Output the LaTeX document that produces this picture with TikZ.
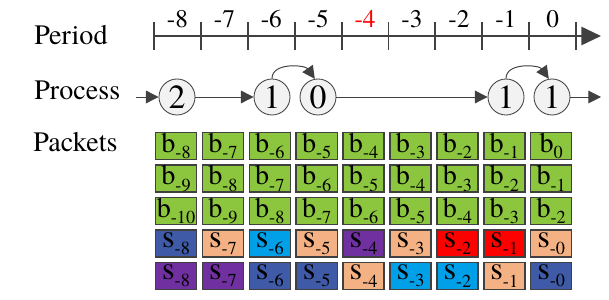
\documentclass[tikz,border=0pt]{standalone}
\usepackage{fontspec}
\setmainfont{TeX Gyre Termes}
\usepackage{tikz}
\usetikzlibrary{arrows.meta}
\definecolor{lineGrey}{HTML}{404040}
\definecolor{procFill}{HTML}{F2F2F2}
\definecolor{pktGreen}{HTML}{8CC63F}
\definecolor{slotNavy}{HTML}{3F5AA6}
\definecolor{slotPeach}{HTML}{F4B183}
\definecolor{slotSky}{HTML}{00A0E9}
\definecolor{slotPurple}{HTML}{7030A0}
\definecolor{slotRed}{HTML}{FF0000}
\newcommand{\pktlab}[2]{#1\raisebox{-0.5ex}{\fontsize{13}{13}\selectfont #2}}
\tikzset{
  rowlabel/.style={anchor=base west, font=\fontsize{20}{20}\selectfont, inner sep=0pt},
  periodlabel/.style={anchor=base, font=\fontsize{18}{18}\selectfont, inner sep=0pt},
  procnode/.style={circle, draw=lineGrey, fill=procFill, line width=0.6pt, minimum size=0.9cm, inner sep=0pt, font=\fontsize{24}{24}\selectfont},
  pktbox/.style={rectangle, draw=lineGrey, fill=#1, line width=1pt, minimum width=1.025cm, minimum height=0.675cm, inner sep=0pt, font=\fontsize{20}{20}\selectfont},
  axisarrow/.style={-{Triangle[length=14pt,width=13pt]}, line width=1.4pt, draw=lineGrey},
  procarrow/.style={-{Triangle[length=9pt,width=9pt]}, line width=0.7pt, draw=lineGrey},
}

\begin{document}
\begin{tikzpicture}[x=0.025cm,y=-0.025cm]
  \useasboundingbox (0,0) rectangle (609,300);

  % row labels
  \node[rowlabel] (period) at (34,45) {Period};
  \node[rowlabel] (process) at (34,100) {Process};
  \node[rowlabel] (packets) at (33,152) {Packets};

  % period axis
  \coordinate (axstart) at (153,36);
  \coordinate (axend) at (601,36);
  \draw[axisarrow] (axstart) -- (axend);
  \foreach \k in {0,...,9}
    \draw[line width=1.4pt, draw=lineGrey] ({154+46.9*\k},22) -- ({154+46.9*\k},50);
  \foreach \k/\lab in {0/-8,1/-7,2/-6,3/-5,5/-3,6/-2,7/-1,8/0}
    \node[periodlabel] (t\k) at ({177.5+46.9*\k},28) {\lab};
  \node[periodlabel, text=red] (t4) at ({177.5+46.9*4},28) {-4};

  % process
  \coordinate (pin) at (136,97);
  \coordinate (pout) at (601,97);
  \node[procnode] (p2) at (177,97) {2};
  \node[procnode] (p1a) at (272,97) {1};
  \node[procnode] (p0) at (318,97) {0};
  \node[procnode] (p1b) at (506,97) {1};
  \node[procnode] (p1c) at (552,97) {1};

  \draw[procarrow] (pin) -- (p2.west);
  \draw[procarrow] (p2.east) -- (p1a.west);
  \draw[procarrow] (p0.east) -- (p1b.west);
  \draw[procarrow] (p1c.east) -- (pout);
  \draw[procarrow] (p1a.north) to[out=90, in=125] (p0.100);
  \draw[procarrow] (p1b.north) to[out=90, in=125] (p1c.100);

  % packets
  \foreach \k in {0,...,8} {
    \pgfmathtruncatemacro{\ba}{\k-8}
    \pgfmathtruncatemacro{\bb}{\k-9}
    \pgfmathtruncatemacro{\bc}{\k-10}
    \node[pktbox=pktGreen] (b1-\k) at ({176+46.9*\k},146) {\pktlab{b}{\ba}};
    \node[pktbox=pktGreen] (b2-\k) at ({176+46.9*\k},178.5) {\pktlab{b}{\bb}};
    \node[pktbox=pktGreen] (b3-\k) at ({176+46.9*\k},211) {\pktlab{b}{\bc}};
  }
  \foreach \k/\sub/\ca/\cb in {0/-8/slotNavy/slotPurple, 1/-7/slotPeach/slotPurple,
      2/-6/slotSky/slotNavy, 3/-5/slotPeach/slotNavy, 4/-4/slotPurple/slotPeach,
      5/-3/slotPeach/slotSky, 6/-2/slotRed/slotSky, 7/-1/slotRed/slotPeach,
      8/-0/slotPeach/slotNavy} {
    \node[pktbox=\ca] (s1-\k) at ({176+46.9*\k},243.5) {\pktlab{\fontsize{23}{23}\selectfont s}{\sub}};
    \node[pktbox=\cb] (s2-\k) at ({176+46.9*\k},276) {\pktlab{\fontsize{23}{23}\selectfont s}{\sub}};
  }
\end{tikzpicture}
\end{document}
